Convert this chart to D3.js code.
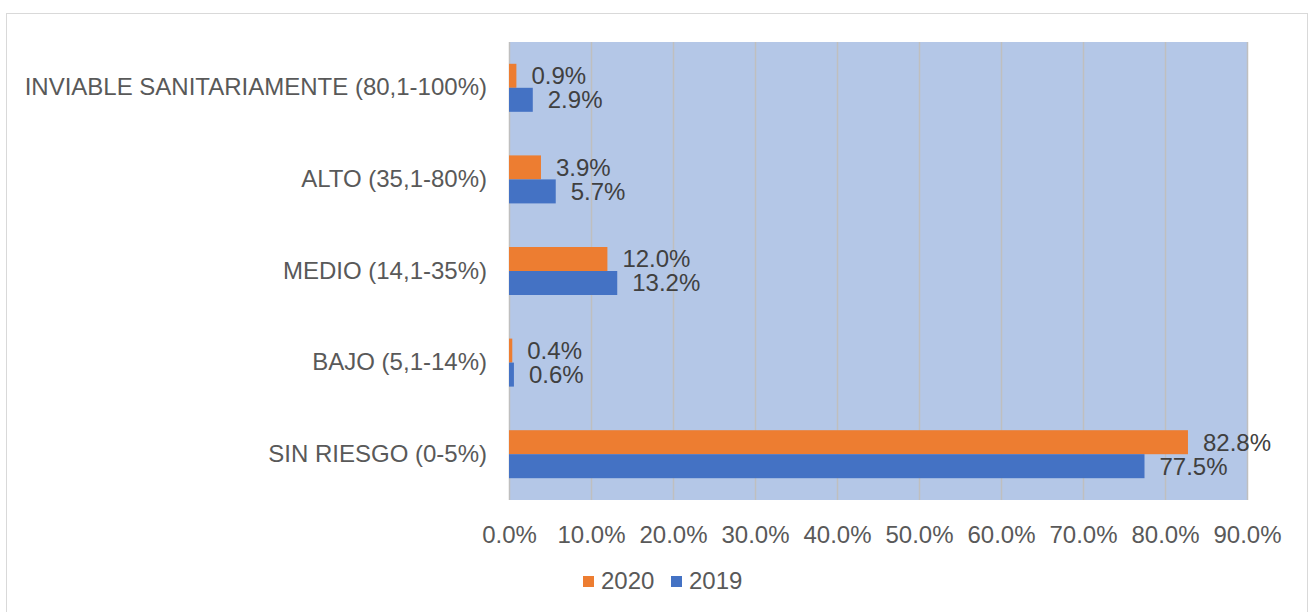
<!DOCTYPE html>
<html>
<head>
<meta charset="utf-8">
<script src="https://cdn.jsdelivr.net/npm/d3@7"></script>
<style>
  body { margin: 0; background: #fff; }
  text { font-family: "Liberation Sans", Arial, sans-serif; }
</style>
</head>
<body>
<svg width="1309" height="612"></svg>
<script>
var categories = ["INVIABLE SANITARIAMENTE (80,1-100%)", "ALTO (35,1-80%)", "MEDIO (14,1-35%)", "BAJO (5,1-14%)", "SIN RIESGO (0-5%)"];
var series = ["2020", "2019"];
var values2020 = [0.9, 3.9, 12.0, 0.4, 82.8];
var values2019 = [2.9, 5.7, 13.2, 0.6, 77.5];
var ticks = [0, 10, 20, 30, 40, 50, 60, 70, 80, 90];

var colors = {"2020": "#ed7d31", "2019": "#4472c4"};
var rows = categories.map(function(c, i) {
  return {cat: c, vals: [{s: "2020", v: values2020[i]}, {s: "2019", v: values2019[i]}]};
});

var svg = d3.select("svg"),
    margin = {top: 42, left: 509},
    width = 738,
    height = 458,
    fs = "24px";

// outer frame
svg.append("rect")
    .attr("x", 6.5).attr("y", 13.5)
    .attr("width", 1301).attr("height", 620)
    .attr("fill", "#fff")
    .attr("stroke", "#d9d9d9");

var g = svg.append("g").attr("transform", "translate(" + margin.left + "," + margin.top + ")");

var x = d3.scaleLinear().domain([0, 90]).range([0, width]);
var y = d3.scaleBand().domain(categories).range([0, height]).paddingInner(0.476).paddingOuter(0.238);
var y1 = d3.scaleBand().domain(series).range([0, y.bandwidth()]);

g.append("rect")
    .attr("width", width).attr("height", height)
    .attr("fill", "#b4c7e7");

g.selectAll(".grid")
    .data(ticks)
    .enter().append("line")
    .attr("class", "grid")
    .attr("x1", function(d) { return Math.round(x(d)) + 0.5; })
    .attr("x2", function(d) { return Math.round(x(d)) + 0.5; })
    .attr("y1", 0).attr("y2", height)
    .attr("stroke", "#bfbfbf")
    .attr("stroke-width", 1.5);

var xAxis = g.append("g")
    .attr("transform", "translate(0," + height + ")")
    .call(d3.axisBottom(x).tickValues(ticks).tickSize(0).tickPadding(26)
      .tickFormat(function(d) { return d.toFixed(1) + "%"; }));
xAxis.select(".domain").remove();
xAxis.selectAll("text")
    .style("font-size", fs)
    .attr("fill", "#595959")
    .style("font-family", "Liberation Sans, Arial, sans-serif");

var yAxis = g.append("g")
    .call(d3.axisLeft(y).tickSize(0).tickPadding(22));
yAxis.select(".domain").remove();
yAxis.selectAll("text")
    .style("font-size", fs)
    .attr("fill", "#595959")
    .style("font-family", "Liberation Sans, Arial, sans-serif");

var row = g.selectAll(".row")
    .data(rows)
    .enter().append("g")
    .attr("class", "row")
    .attr("transform", function(d) { return "translate(0," + y(d.cat) + ")"; });

row.selectAll("rect")
    .data(function(d) { return d.vals; })
    .enter().append("rect")
    .attr("x", 0)
    .attr("y", function(d) { return y1(d.s); })
    .attr("width", function(d) { return x(d.v); })
    .attr("height", y1.bandwidth())
    .attr("fill", function(d) { return colors[d.s]; });

row.selectAll(".lbl")
    .data(function(d) { return d.vals; })
    .enter().append("text")
    .attr("class", "lbl")
    .attr("x", function(d) { return x(d.v) + 15; })
    .attr("y", function(d) { return y1(d.s) + y1.bandwidth() / 2; })
    .attr("dy", "0.35em")
    .style("font-size", fs)
    .attr("fill", "#404040")
    .text(function(d) { return d.v.toFixed(1) + "%"; });

// legend
var legend = svg.append("g").attr("transform", "translate(583,576)");
var item = legend.selectAll(".item")
    .data(series)
    .enter().append("g")
    .attr("class", "item")
    .attr("transform", function(d, i) { return "translate(" + (i * 88) + ",0)"; });
item.append("rect")
    .attr("width", 11).attr("height", 11)
    .attr("fill", function(d) { return colors[d]; });
item.append("text")
    .attr("x", 18).attr("y", 13)
    .style("font-size", fs)
    .attr("fill", "#595959")
    .text(function(d) { return d; });
</script>
</body>
</html>
